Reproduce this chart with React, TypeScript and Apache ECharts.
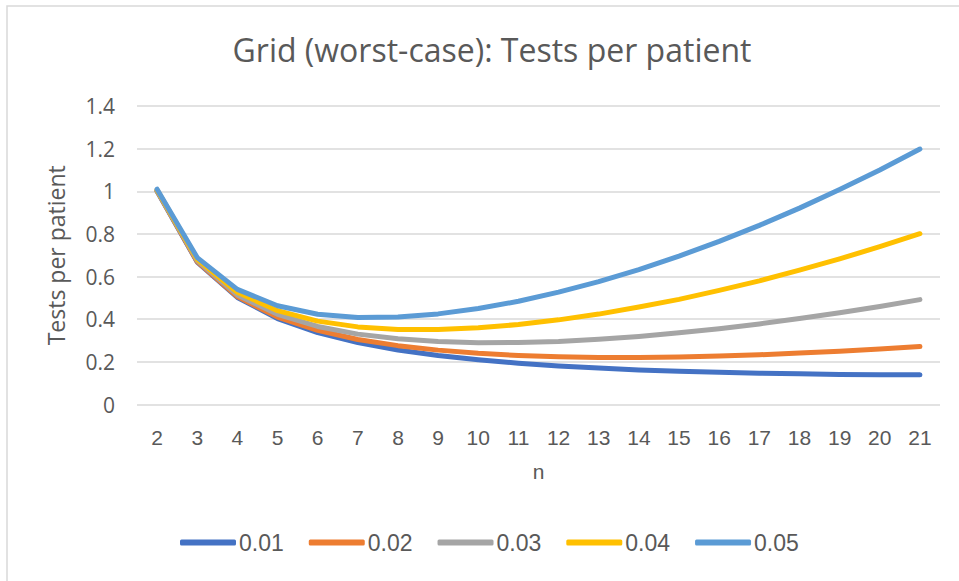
import React, { useEffect, useRef } from "react";
import * as echarts from "echarts";

const categories = ["2","3","4","5","6","7","8","9","10","11","12","13","14","15","16","17","18","19","20","21"];
const seriesNames = ["0.01", "0.02", "0.03", "0.04", "0.05"];
const p01 = [1.000, 0.668, 0.502, 0.403, 0.337, 0.291, 0.256, 0.230, 0.210, 0.194, 0.181, 0.171, 0.162, 0.156, 0.151, 0.147, 0.144, 0.141, 0.140, 0.139];
const p02 = [1.002, 0.670, 0.506, 0.410, 0.348, 0.305, 0.276, 0.255, 0.240, 0.230, 0.224, 0.221, 0.221, 0.223, 0.227, 0.233, 0.241, 0.250, 0.260, 0.272];
const p03 = [1.004, 0.675, 0.514, 0.423, 0.366, 0.330, 0.308, 0.295, 0.290, 0.291, 0.296, 0.306, 0.319, 0.336, 0.355, 0.378, 0.403, 0.430, 0.460, 0.492];
const p04 = [1.006, 0.681, 0.526, 0.440, 0.391, 0.364, 0.352, 0.352, 0.360, 0.375, 0.397, 0.424, 0.457, 0.493, 0.535, 0.580, 0.630, 0.683, 0.740, 0.801];
const p05 = [1.010, 0.689, 0.540, 0.463, 0.423, 0.408, 0.410, 0.425, 0.450, 0.484, 0.527, 0.576, 0.633, 0.696, 0.765, 0.840, 0.921, 1.008, 1.100, 1.198];
const seriesData = [p01, p02, p03, p04, p05];
const colors = ["#4472C4", "#ED7D31", "#A5A5A5", "#FFC000", "#5B9BD5"];

export default function App() {
  const ref = useRef<HTMLDivElement>(null);
  useEffect(() => {
    if (!ref.current) return;
    const chart = echarts.init(ref.current, null, { renderer: "svg" });
    const textColor = "#595959";
    chart.setOption({
      animation: false,
      backgroundColor: "#ffffff",
      color: colors,
      title: {
        text: "Grid (worst-case): Tests per patient",
        left: 487,
        top: 28,
        textAlign: "center",
        textStyle: { fontFamily: "Open Sans", fontSize: 32, fontWeight: "normal", color: textColor },
      },
      graphic: [
        {
          type: "rect",
          shape: { x: 7, y: 6, width: 1000, height: 1000 },
          style: { fill: "none", stroke: "#d9d9d9", lineWidth: 1.5 },
          silent: true,
          z: -1,
        },
      ],
      grid: { left: 137, right: 19, top: 106, bottom: 176.5, containLabel: false },
      legend: {
        data: seriesNames,
        bottom: 22,
        left: 175,
        icon: "roundRect",
        itemWidth: 56,
        itemHeight: 6,
        itemGap: 25,
        textStyle: { fontFamily: "Liberation Sans", fontSize: 23, color: textColor, padding: [0, 0, 0, -2] },
      },
      xAxis: {
        type: "category",
        data: categories,
        boundaryGap: true,
        name: "n",
        nameLocation: "middle",
        nameGap: 56,
        nameTextStyle: { fontFamily: "Liberation Sans", fontSize: 21, color: textColor },
        axisLine: { show: false },
        axisTick: { show: false },
        axisLabel: { fontFamily: "Liberation Sans", fontSize: 21, color: textColor, margin: 22 },
      },
      yAxis: {
        type: "value",
        min: 0,
        max: 1.4,
        interval: 0.2,
        name: "Tests per patient",
        nameLocation: "middle",
        nameGap: 70,
        nameTextStyle: { fontFamily: "Open Sans", fontSize: 23, color: textColor },
        axisLine: { show: false },
        axisTick: { show: false },
        axisLabel: {
          fontFamily: "Open Sans",
          fontSize: 21,
          color: textColor,
          margin: 22,
          formatter: (v: number) => String(Math.round(v * 10) / 10),
        },
        splitLine: { lineStyle: { color: "#d9d9d9", width: 1.5 } },
      },
      series: seriesData.map((d, i) => ({
        name: seriesNames[i],
        type: "line",
        data: d,
        symbol: "none",
        lineStyle: { width: 5, color: colors[i], cap: "round", join: "round" },
        itemStyle: { color: colors[i] },
      })),
    });
    return () => chart.dispose();
  }, []);
  return <div ref={ref} style={{ width: 959, height: 581, position: "absolute", left: 0, top: 0 }} />;
}
